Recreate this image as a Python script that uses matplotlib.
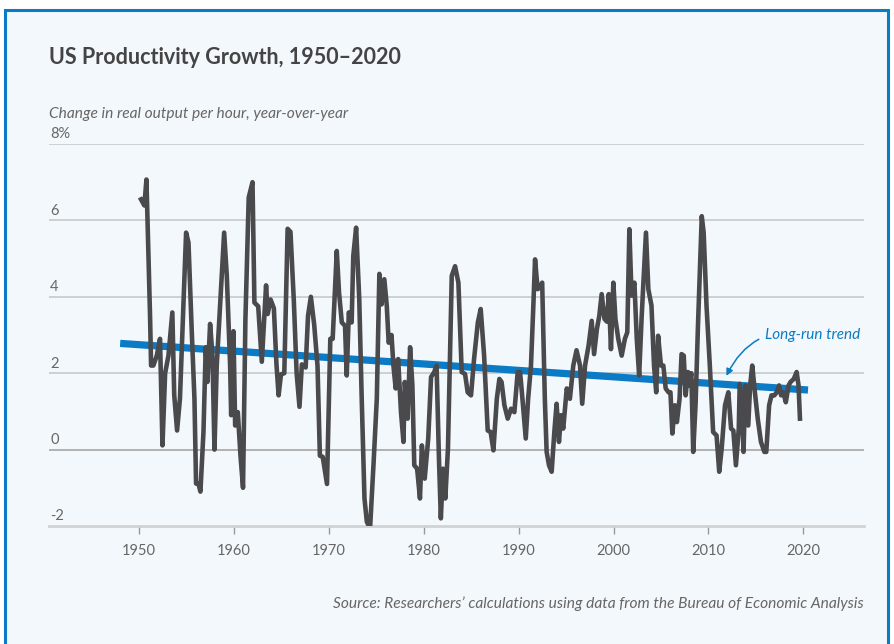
import numpy as np
import matplotlib.pyplot as plt
from matplotlib.patches import Rectangle

plt.rcParams['font.family'] = ['Lato', 'DejaVu Sans']

# year-over-year change in real output per hour (%)
years = [1950.20, 1950.55, 1950.77, 1951.15, 1951.26, 1951.5, 1951.86, 1952.2, 1952.46, 1952.74,
         1953.09, 1953.5, 1953.7, 1954.0, 1954.3, 1954.67, 1954.95, 1955.2, 1955.55, 1955.83,
         1956.0, 1956.25, 1956.46, 1956.78, 1957.02, 1957.2, 1957.48, 1957.73, 1957.94, 1958.18,
         1958.53, 1958.96, 1959.24, 1959.59, 1959.7, 1959.94, 1960.12, 1960.4, 1960.68, 1960.95,
         1961.2, 1961.55, 1961.95, 1962.15, 1962.55, 1962.93, 1963.38, 1963.55, 1963.85, 1964.2,
         1964.47, 1964.7, 1964.95, 1965.3, 1965.65, 1965.95, 1966.3, 1966.6, 1966.9, 1967.15,
         1967.55, 1967.8, 1968.1, 1968.45, 1968.8, 1969.05, 1969.35, 1969.8, 1970.15, 1970.4,
         1970.83, 1971.07, 1971.36, 1971.7, 1971.88, 1972.1, 1972.4, 1972.57, 1972.87, 1973.2,
         1973.46, 1973.75, 1974.0, 1974.34, 1974.7, 1975.05, 1975.32, 1975.55, 1975.84, 1976.1,
         1976.3, 1976.6, 1976.8, 1977.04, 1977.3, 1977.6, 1977.86, 1978.0, 1978.3, 1978.56,
         1978.8, 1979.0, 1979.3, 1979.6, 1979.8, 1980.1, 1980.47, 1980.77, 1981.1, 1981.35,
         1981.6, 1981.8, 1982.03, 1982.27, 1982.55, 1982.95, 1983.3, 1983.65, 1984.0, 1984.35,
         1984.63, 1984.98, 1985.3, 1985.7, 1986.0, 1986.36, 1986.74, 1987.05, 1987.34, 1987.7,
         1987.97, 1988.2, 1988.5, 1988.85, 1989.2, 1989.55, 1989.9, 1990.15, 1990.4, 1990.75,
         1991.0, 1991.3, 1991.55, 1991.73, 1992.0, 1992.25, 1992.48, 1992.76, 1992.95, 1993.2,
         1993.48, 1993.76, 1994.0, 1994.25, 1994.46, 1994.7, 1995.07, 1995.4, 1995.76, 1996.1,
         1996.47, 1996.7, 1997.0, 1997.37, 1997.7, 1997.95, 1998.25, 1998.5, 1998.75, 1999.05,
         1999.3, 1999.5, 1999.73, 1999.98, 2000.2, 2000.5, 2000.86, 2001.2, 2001.45, 2001.67,
         2001.9, 2002.2, 2002.45, 2002.7, 2002.97, 2003.2, 2003.42, 2003.67, 2004.0, 2004.27,
         2004.5, 2004.7, 2005.0, 2005.25, 2005.5, 2005.8, 2006.0, 2006.2, 2006.46, 2006.68,
         2006.96, 2007.17, 2007.4, 2007.6, 2007.85, 2007.95, 2008.2, 2008.4, 2008.65, 2008.9,
         2009.3, 2009.5, 2009.8, 2010.15, 2010.5, 2010.86, 2011.14, 2011.4, 2011.75, 2012.1,
         2012.39, 2012.63, 2012.9, 2013.2, 2013.3, 2013.5, 2013.7, 2013.9, 2014.2, 2014.4,
         2014.62, 2014.9, 2015.2, 2015.54, 2015.9, 2016.1, 2016.4, 2016.65, 2016.95, 2017.2,
         2017.45, 2017.66, 2017.9, 2018.16, 2018.45, 2018.66, 2019.0, 2019.3, 2019.5, 2019.65]
growth = [6.55, 6.39, 7.07, 3.5, 2.2, 2.2, 2.46, 2.9, 0.11, 2.0,
          2.46, 3.59, 1.42, 0.5, 1.33, 3.77, 5.68, 5.42, 3.07, 1.33,
          -0.89, -0.89, -1.1, 0.46, 2.68, 1.77, 3.29, 2.46, 0.0, 2.2,
          3.77, 5.68, 4.55, 2.2, 0.9, 3.1, 0.63, 0.98, -0.15, -1.0,
          3.39, 6.6, 7.0, 3.85, 3.75, 2.3, 4.3, 3.55, 3.93, 3.7,
          2.25, 1.42, 1.97, 2.0, 5.78, 5.7, 3.92, 2.0, 1.12, 2.23,
          2.15, 3.5, 4.0, 3.27, 2.2, -0.16, -0.19, -0.9, 2.9, 2.9,
          5.2, 4.11, 3.33, 3.24, 1.94, 3.59, 3.33, 5.07, 5.81, 3.94,
          1.33, -1.28, -1.89, -2.06, -0.4, 1.33, 4.6, 3.8, 4.46, 3.77,
          2.8, 3.0, 2.2, 1.6, 2.37, 0.98, 0.2, 1.77, 0.81, 2.68,
          1.68, -0.41, -0.5, -1.28, 0.11, -0.76, 0.29, 1.9, 2.03, 2.2,
          -0.23, -1.8, -0.5, -1.28, 0.03, 4.55, 4.8, 4.37, 2.03, 1.98,
          1.5, 1.42, 2.37, 3.33, 3.68, 2.46, 0.5, 0.46, -0.02, 1.33,
          1.85, 1.77, 1.16, 0.81, 1.07, 0.98, 2.03, 2.03, 1.33, 0.29,
          1.33, 2.2, 3.77, 4.98, 4.2, 4.25, 4.37, 1.33, -0.06, -0.41,
          -0.58, 0.46, 1.2, 0.2, 0.9, 0.55, 1.6, 1.33, 2.2, 2.6,
          2.2, 1.2, 2.2, 2.72, 3.37, 2.5, 3.16, 3.5, 4.07, 3.42,
          3.35, 4.07, 2.63, 4.37, 3.42, 2.9, 2.46, 2.9, 3.07, 5.77,
          4.03, 4.37, 2.9, 1.94, 3.5, 4.63, 5.68, 4.2, 3.77, 2.2,
          1.5, 2.98, 2.2, 2.2, 1.6, 1.5, 1.5, 0.42, 1.16, 0.72,
          1.33, 2.5, 2.46, 1.42, 2.03, 1.68, 2.0, -0.06, 1.2, 3.24,
          6.11, 5.68, 3.77, 2.2, 0.46, 0.37, -0.58, 0.03, 1.16, 1.5,
          0.55, 0.5, -0.41, 0.55, 1.72, 1.4, -0.06, 1.68, 0.63, 1.68,
          2.2, 1.5, 0.81, 0.2, -0.06, -0.06, 1.16, 1.42, 1.42, 1.5,
          1.68, 1.42, 1.5, 1.24, 1.68, 1.77, 1.85, 2.03, 1.68, 0.81]

trend_years = [1948.0, 2020.5]
trend_vals = [2.78, 1.56]

y_ticks = [-2, 0, 2, 4, 6, 8]
x_ticks = [1950, 1960, 1970, 1980, 1990, 2000, 2010, 2020]

W, H = 894, 644
bg = '#f3f8fc'
blue = '#0a7bc4'
dark = '#4a4a4d'
grey_txt = '#666666'

fig = plt.figure(figsize=(W / 100, H / 100), dpi=100, facecolor='white')
fig.patches.append(Rectangle((5 / W, -0.05), 883 / W, (H - 10) / H + 0.05,
                             transform=fig.transFigure, facecolor=bg,
                             edgecolor=blue, linewidth=2.2, zorder=-5))

ax = fig.add_axes([49 / W, (H - 526) / H, (864 - 49) / W, (526 - 144) / H])
ax.set_facecolor('none')
ax.set_xlim(1940.5, 2026.4)
ax.set_ylim(-2, 8)

ax.set_yticks(y_ticks[1:])
ax.yaxis.grid(True, color='#c4c4c4', linewidth=1.1)
ax.tick_params(axis='y', left=False, labelleft=False)
ax.axhline(0, color='#5a5a5a', linewidth=1.1, zorder=1)
for v in y_ticks:
    lab = '8%' if v == 8 else str(v)
    ax.text(0.0015, v + 0.07, lab, transform=ax.get_yaxis_transform(),
            ha='left', va='bottom', fontsize=10.5, color=grey_txt)

for s in ['top', 'left', 'right']:
    ax.spines[s].set_visible(False)
ax.spines['bottom'].set_color('#d2d2d2')
ax.spines['bottom'].set_linewidth(2)
ax.set_xticks(x_ticks)
ax.tick_params(axis='x', direction='out', length=6, width=1, color='#999999',
               labelsize=10.5, labelcolor=grey_txt, pad=7)

ax.plot(trend_years, trend_vals, color=blue, linewidth=5.2, solid_capstyle='butt', zorder=2)
ax.plot(years, growth, color=dark, linewidth=3.3, solid_joinstyle='round', zorder=3)

ax.annotate('Long-run trend', xy=(2011.9, 1.93), xytext=(2016.0, 3.01),
            fontsize=11, style='italic', color=blue, ha='left', va='center',
            arrowprops=dict(arrowstyle='-|>', color=blue, lw=1.1,
                            connectionstyle='arc3,rad=0.4', mutation_scale=10,
                            shrinkA=3, shrinkB=0))

fig.text(49 / W, 1 - 57 / H, 'US Productivity Growth, 1950\u20132020', fontsize=15.5,
         fontweight='bold', color='#444444', ha='left', va='center')
fig.text(49 / W, 1 - 114 / H, 'Change in real output per hour, year-over-year',
         fontsize=11.2, style='italic', color=grey_txt, ha='left', va='center')
fig.text(864 / W, 1 - 604 / H,
         'Source: Researchers\u2019 calculations using data from the Bureau of Economic Analysis',
         fontsize=11.2, style='italic', color=grey_txt, ha='right', va='center')

fig.savefig('out.png', dpi=100, facecolor='white')
